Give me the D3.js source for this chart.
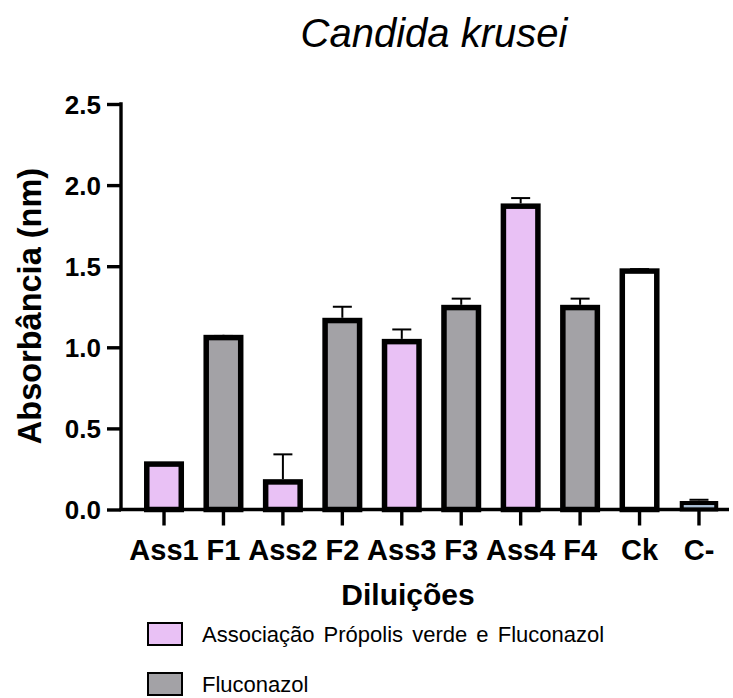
<!DOCTYPE html>
<meta charset="utf-8">
<head>
    <style>
        body { margin: 0; background: #fff; }
        text { font-family: "Liberation Sans", Arial, sans-serif; fill: #000; }
        .tick-label { font-weight: bold; font-size: 26px; }
        .x-label { font-weight: bold; font-size: 29px; }
    </style>
</head>

<!-- Load d3.js -->
<script src="https://d3js.org/d3.v7.min.js"></script>

<div id="my_dataviz"></div>

<script>

    // data
    var categories = ["Ass1", "F1", "Ass2", "F2", "Ass3", "F3", "Ass4", "F4", "Ck", "C-"];
    var means      = [0.28, 1.06, 0.17, 1.165, 1.035, 1.245, 1.87, 1.245, 1.47, 0.04];
    var errors     = [0.0, 0.01, 0.17, 0.085, 0.075, 0.055, 0.05, 0.055, 0.012, 0.02];
    var groups     = ["ass", "flu", "ass", "flu", "ass", "flu", "ass", "flu", "ck", "neg"];
    var yTicks     = [0, 0.5, 1.0, 1.5, 2.0, 2.5];
    var legendLabels = ["Associação Própolis verde e Fluconazol", "Fluconazol"];

    var colors = { ass: "#e9c1f5", flu: "#a3a2a6", ck: "#ffffff", neg: "#a9bfd6" };

    var data = categories.map(function(c, i) {
      return { group: c, value: means[i], err: errors[i], kind: groups[i] };
    });

    var width = 733, height = 698;

    var svg = d3.select("#my_dataviz")
      .append("svg")
        .attr("width", width)
        .attr("height", height);

    // scales
    var x = d3.scaleBand()
      .domain(categories)
      .range([134.3, 728.7])
      .paddingInner(0.42)
      .paddingOuter(0.21);

    var y = d3.scaleLinear()
      .domain([0, 2.5])
      .range([509.5, 104]);

    // title
    svg.append("text")
      .attr("x", 434)
      .attr("y", 47)
      .attr("text-anchor", "middle")
      .style("font-size", "40px")
      .style("font-style", "italic")
      .text("Candida krusei");

    // bars
    svg.selectAll("rect.bar")
      .data(data)
      .enter()
      .append("rect")
        .attr("class", "bar")
        .attr("x", function(d) { return x(d.group) + x.bandwidth() / 2 - 17.25; })
        .attr("y", function(d) { return y(d.value); })
        .attr("width", 34.5)
        .attr("height", function(d) { return y(0) - y(d.value); })
        .attr("fill", function(d) { return colors[d.kind]; })
        .attr("stroke", "#000")
        .attr("stroke-width", function(d) { return d.kind === "neg" ? 4 : 5.5; });

    // error bars (upper only)
    var eb = svg.selectAll("g.err")
      .data(data.filter(function(d) { return d.err > 0; }))
      .enter()
      .append("g")
        .attr("class", "err");
    eb.append("line")
      .attr("x1", function(d) { return x(d.group) + x.bandwidth() / 2; })
      .attr("x2", function(d) { return x(d.group) + x.bandwidth() / 2; })
      .attr("y1", function(d) { return y(d.value) - 2.75; })
      .attr("y2", function(d) { return y(d.value + d.err); })
      .attr("stroke", "#000")
      .attr("stroke-width", 2);
    eb.append("line")
      .attr("x1", function(d) { return x(d.group) + x.bandwidth() / 2 - 9.5; })
      .attr("x2", function(d) { return x(d.group) + x.bandwidth() / 2 + 9.5; })
      .attr("y1", function(d) { return y(d.value + d.err); })
      .attr("y2", function(d) { return y(d.value + d.err); })
      .attr("stroke", "#000")
      .attr("stroke-width", 2);

    // Y axis
    var yAxis = svg.append("g")
      .attr("transform", "translate(121,0)")
      .call(d3.axisLeft(y).tickValues(yTicks).tickFormat(d3.format(".1f")).tickSize(14).tickPadding(6));
    yAxis.select(".domain").attr("d", "M0," + (y(2.5) - 1.7) + "V" + y(0))
      .attr("stroke-width", 3.4);
    yAxis.selectAll(".tick line").attr("stroke-width", 3.4);
    yAxis.selectAll(".tick text").attr("class", "tick-label").attr("dy", "0.36em");

    // X axis
    var xAxis = svg.append("g")
      .attr("transform", "translate(0," + y(0) + ")")
      .call(d3.axisBottom(x).tickSize(16).tickPadding(0));
    xAxis.select(".domain").attr("d", "M119.3,0H729").attr("stroke-width", 3.4);
    xAxis.selectAll(".tick line").attr("stroke-width", 3.4);
    xAxis.selectAll(".tick text").attr("class", "x-label").attr("y", 50.5).attr("dy", null);

    // axis titles
    svg.append("text")
      .attr("transform", "translate(41,306) rotate(-90)")
      .attr("text-anchor", "middle")
      .style("font-size", "32.5px")
      .style("font-weight", "bold")
      .text("Absorbância (nm)");

    svg.append("text")
      .attr("x", 408)
      .attr("y", 605)
      .attr("text-anchor", "middle")
      .style("font-size", "30px")
      .style("font-weight", "bold")
      .text("Diluições");

    // legend
    var legend = svg.selectAll("g.legend")
      .data(legendLabels)
      .enter()
      .append("g")
        .attr("class", "legend")
        .attr("transform", function(d, i) { return "translate(147," + (622 + i * 50) + ")"; });
    legend.append("rect")
      .attr("x", 1)
      .attr("y", 1)
      .attr("width", 34)
      .attr("height", 22)
      .attr("fill", function(d, i) { return i === 0 ? colors.ass : colors.flu; })
      .attr("stroke", "#000")
      .attr("stroke-width", 2);
    legend.append("text")
      .attr("x", 55)
      .attr("y", 20)
      .style("font-size", "22px")
      .style("word-spacing", "3px")
      .text(function(d) { return d; });

</script>
